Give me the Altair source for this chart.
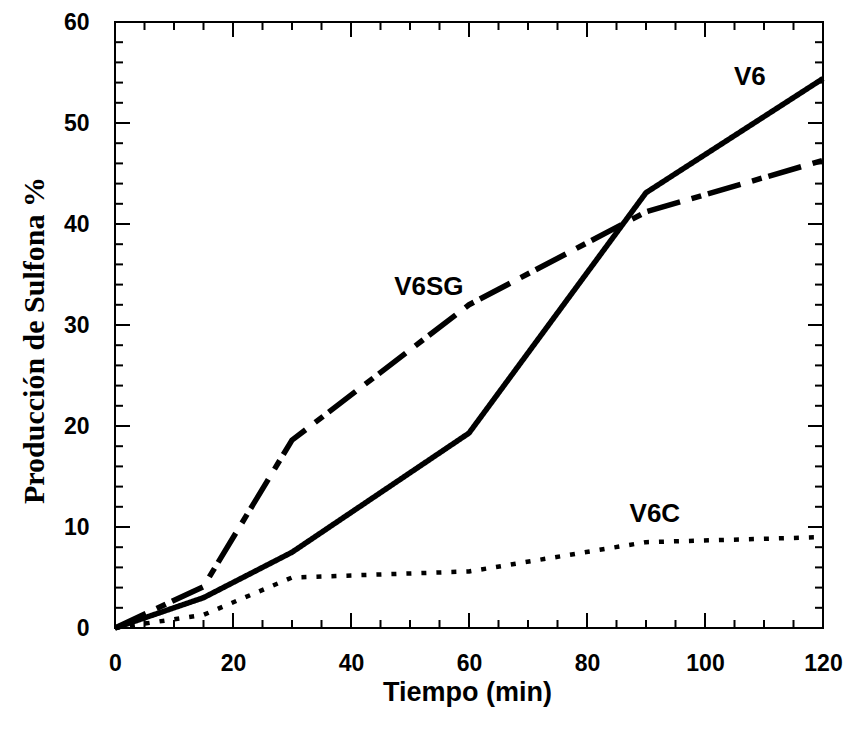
import altair as alt
import pandas as pd

# ---- data ----
tiempo = [0, 15, 30, 60, 90, 120]
v6 = [0, 3.0, 7.5, 19.3, 43.1, 54.4]
v6sg = [0, 4.1, 18.6, 32.0, 41.2, 46.3]
v6c = [0, 1.3, 5.0, 5.6, 8.5, 9.0]

series_names = ["V6", "V6SG", "V6C"]
label_x = [107.6, 53.2, 91.5]
label_y = [53.8, 33.0, 10.5]

x_major = [0, 20, 40, 60, 80, 100, 120]
x_minor = [5, 10, 15, 25, 30, 35, 45, 50, 55, 65, 70, 75, 85, 90, 95, 105, 110, 115]
y_major = [0, 10, 20, 30, 40, 50, 60]
y_minor = [2, 4, 6, 8, 12, 14, 16, 18, 22, 24, 26, 28, 32, 34, 36, 38, 42, 44, 46, 48, 52, 54, 56, 58]

W, H = 708, 606
SANS = "Liberation Sans"
SERIF = "Liberation Serif"

xs = alt.Scale(domain=[0, 120], nice=False, zero=False)
ys = alt.Scale(domain=[0, 60], nice=False, zero=False)

x_axis = alt.Axis(values=x_major, format="d", ticks=False, tickSize=0, domain=False, grid=False,
                  labelFont=SANS, labelFontSize=23, labelFontWeight="bold", labelColor="black",
                  labelPadding=24, labelFlush=False,
                  title="Tiempo (min)", titleFont=SANS, titleFontSize=27, titleFontWeight="bold",
                  titleColor="black", titleX=352, titleY=72, titleBaseline="alphabetic", titleAlign="center")
y_axis = alt.Axis(values=y_major, format="d", ticks=False, tickSize=0, domain=False, grid=False,
                  labelFont=SANS, labelFontSize=23, labelFontWeight="bold", labelColor="black",
                  labelPadding=26, labelFlush=False,
                  title="Producción de Sulfona %", titleFont=SERIF, titleFontSize=30, titleFontWeight="bold",
                  titleColor="black", titleAngle=270, titleX=-72, titleY=318,
                  titleBaseline="alphabetic", titleAlign="center")


def X(field):
    return alt.X(field, scale=xs, axis=x_axis)


def Y(field):
    return alt.Y(field, scale=ys, axis=y_axis)


dashes = {"V6": [1, 0], "V6SG": [34, 12, 10, 7], "V6C": [5, 10]}
widths = {"V6": 5.5, "V6SG": 5.5, "V6C": 4.5}
vals = {"V6": v6, "V6SG": v6sg, "V6C": v6c}

layers = []
for name in series_names:
    df = pd.DataFrame({"t": tiempo, "p": vals[name]})
    layers.append(
        alt.Chart(df).mark_line(color="black", strokeWidth=widths[name],
                                strokeDash=dashes[name], strokeCap="butt", strokeJoin="round")
        .encode(x=X("t:Q"), y=Y("p:Q"))
    )

# labels
lab_df = pd.DataFrame({"name": series_names, "t": label_x, "p": label_y})
layers.append(
    alt.Chart(lab_df).mark_text(font=SANS, fontSize=26, fontWeight="bold", color="black",
                                align="center", baseline="alphabetic")
    .encode(x=X("t:Q"), y=Y("p:Q"), text="name:N")
)


# tick marks (inward) on all four sides
def xticks(values, length):
    d = pd.DataFrame({"t": values})
    bottom = alt.Chart(d).mark_rule(color="black", strokeWidth=2).encode(
        x=X("t:Q"), y=alt.value(H), y2=alt.value(H - length))
    top = alt.Chart(d).mark_rule(color="black", strokeWidth=2).encode(
        x=X("t:Q"), y=alt.value(0), y2=alt.value(length))
    return [bottom, top]


def yticks(values, length):
    d = pd.DataFrame({"p": values})
    left = alt.Chart(d).mark_rule(color="black", strokeWidth=2).encode(
        y=Y("p:Q"), x=alt.value(0), x2=alt.value(length))
    right = alt.Chart(d).mark_rule(color="black", strokeWidth=2).encode(
        y=Y("p:Q"), x=alt.value(W), x2=alt.value(W - length))
    return [left, right]


layers += xticks(x_major, 15) + xticks(x_minor, 8) + yticks(y_major, 15) + yticks(y_minor, 8)

chart = alt.layer(*layers).properties(
    width=W, height=H,
    autosize=alt.AutoSizeParams(type="none"),
    padding={"left": 115, "top": 22, "right": 21, "bottom": 104},
    background="white",
).configure_view(stroke="black", strokeWidth=2)

chart.save("out.html", embed_options={"renderer": "svg", "actions": False})
